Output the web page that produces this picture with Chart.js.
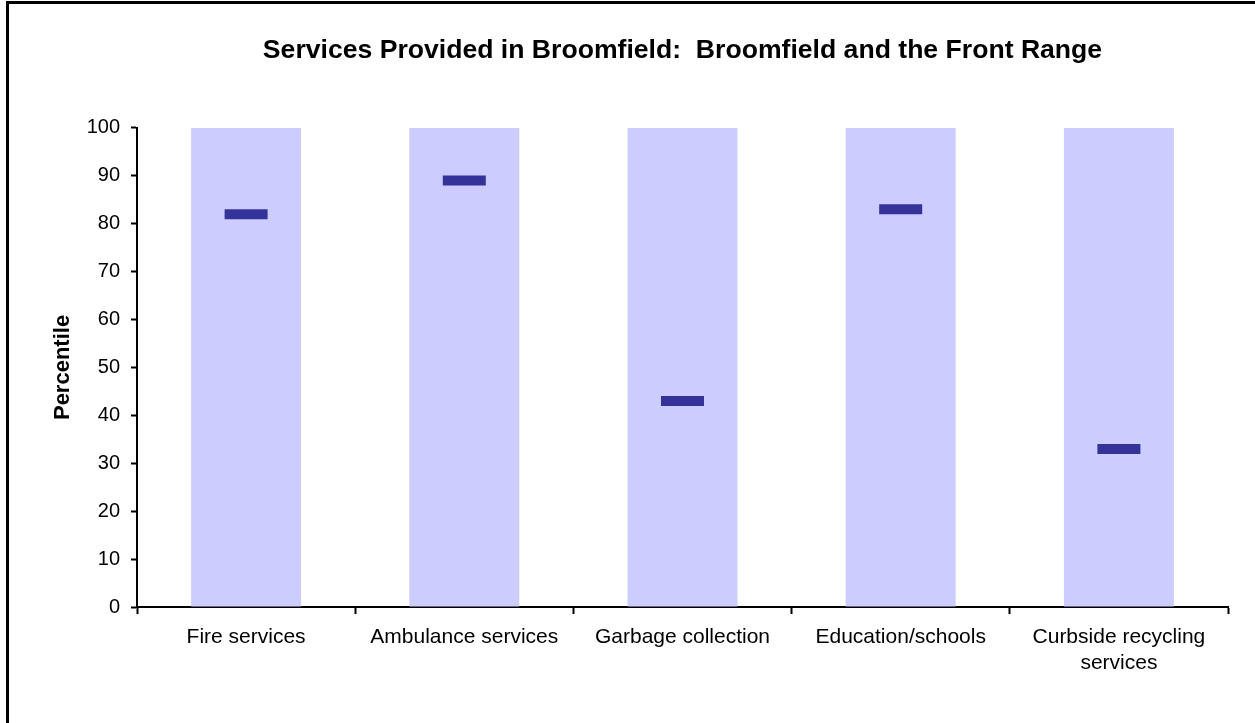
<!DOCTYPE html>
<html>
<head>
<meta charset="utf-8">
<title>Services Provided in Broomfield</title>
<script src="https://cdn.jsdelivr.net/npm/chart.js@4.4.1/dist/chart.umd.min.js"></script>
<style>
  html, body { margin: 0; padding: 0; background: #fff; }
  #wrap { position: relative; width: 1255px; height: 723px; overflow: hidden; }
  #chart { position: absolute; left: 0; top: 0; }
  #frame {
    position: absolute; left: 6px; top: 1px; width: 1260px; height: 730px;
    border-left: 3px solid #000; border-top: 3px solid #000; pointer-events: none;
  }
</style>
</head>
<body>
<div id="wrap">
  <canvas id="chart" width="1255" height="723"></canvas>
  <div id="frame"></div>
</div>
<script>
// Categories (multi-line labels wrap like the printed axis)
const categories = [
  'Fire services',
  'Ambulance services',
  'Garbage collection',
  'Education/schools',
  ['Curbside recycling', 'services']
];
// Front Range range: every service spans the full 0-100 percentile band
const rangeTop = [100, 100, 100, 100, 100];
// Broomfield's percentile for each service
const broomfieldPercentile = [82, 89, 43, 83, 33];

const FONT = "Arial, 'Liberation Sans', sans-serif";
Chart.defaults.font.family = FONT;
Chart.defaults.color = '#000';

new Chart(document.getElementById('chart').getContext('2d'), {
  data: {
    labels: categories,
    datasets: [
      {
        type: 'line',
        label: 'Broomfield',
        data: broomfieldPercentile,
        showLine: false,
        pointStyle: 'line',
        pointRadius: 21.5,
        pointBorderWidth: 10,
        pointBorderColor: '#333399',
        pointBackgroundColor: '#333399',
        order: 0
      },
      {
        type: 'bar',
        label: 'Front Range',
        data: rangeTop,
        backgroundColor: '#CCCCFF',
        borderWidth: 0,
        categoryPercentage: 1,
        barPercentage: 0.504,
        order: 1
      }
    ]
  },
  options: {
    responsive: false,
    animation: false,
    layout: {
      // the wide dash markers would otherwise pad every side
      autoPadding: false,
      padding: { left: 0, right: 27, top: 0, bottom: 0 }
    },
    plugins: {
      legend: { display: false },
      tooltip: { enabled: false },
      title: {
        display: true,
        fullSize: false,
        text: 'Services Provided in Broomfield:  Broomfield and the Front Range',
        font: { size: 26.6, weight: 'bold', family: FONT },
        color: '#000',
        padding: { top: 35, bottom: 61 }
      }
    },
    scales: {
      x: {
        offset: true,
        grid: {
          offset: true,
          drawOnChartArea: false,
          drawTicks: true,
          tickLength: 7,
          tickWidth: 2,
          tickColor: '#000'
        },
        border: { display: true, color: '#000', width: 2 },
        ticks: {
          font: { size: 21, family: FONT, lineHeight: 1.24 },
          color: '#000',
          padding: 10,
          maxRotation: 0,
          autoSkip: false
        },
        afterFit(scale) {
          scale.height = 116;
          scale.paddingLeft = 0;
          scale.paddingRight = 0;
        }
      },
      y: {
        min: 0,
        max: 100,
        grid: {
          drawOnChartArea: false,
          drawTicks: true,
          tickLength: 6,
          tickWidth: 2,
          tickColor: '#000'
        },
        border: { display: true, color: '#000', width: 2 },
        ticks: {
          stepSize: 10,
          font: { size: 20, family: FONT },
          color: '#000',
          padding: 11
        },
        title: {
          display: true,
          text: 'Percentile',
          font: { size: 22, weight: 'bold', family: FONT },
          color: '#000',
          padding: { top: 50, bottom: 0 }
        },
        afterFit(scale) { scale.width = 137; }
      }
    }
  }
});
</script>
</body>
</html>
